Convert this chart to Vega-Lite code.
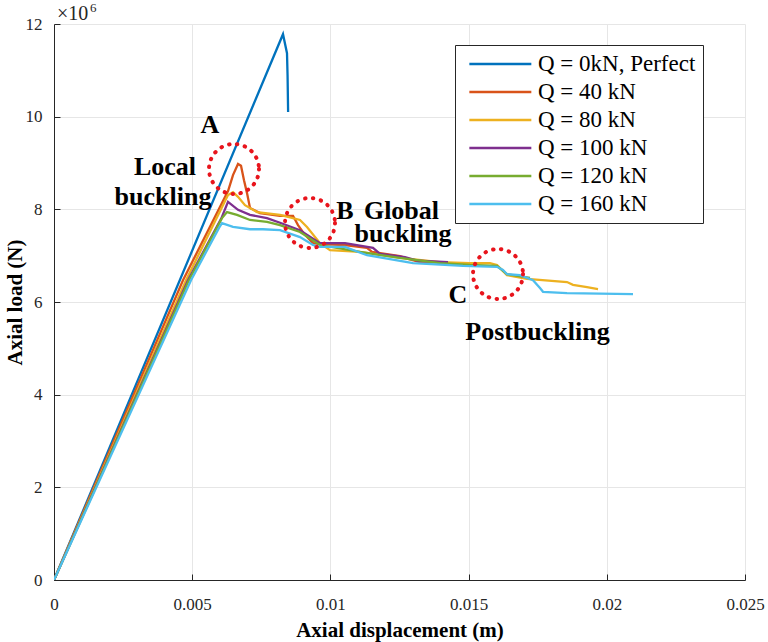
{
  "$schema": "https://vega.github.io/schema/vega-lite/v6.json",
  "autosize": "none",
  "width": 691,
  "height": 556,
  "padding": {"left": 54, "top": 24, "right": 23, "bottom": 62},
  "background": "white",
  "config": {
    "view": {"stroke": null},
    "axis": {
      "labelFont": "Liberation Serif", "labelFontSize": 17, "labelColor": "#262626",
      "titleFont": "Liberation Serif", "titleFontSize": 21, "titleFontWeight": "bold", "titleColor": "black",
      "domainColor": "#262626", "domainWidth": 1, "tickColor": "#262626", "tickSize": -6,
      "gridColor": "#e6e6e6", "gridWidth": 1
    },
    "legend": {
      "labelFont": "Liberation Serif", "labelFontSize": 23, "labelColor": "black"
    }
  },
  "datasets": {
    "curves": [
      {"d": 0, "load": 0, "Q": "Q = 0kN, Perfect"},
      {"d": 0.008285, "load": 11780000, "Q": "Q = 0kN, Perfect"},
      {"d": 0.00843, "load": 11370000, "Q": "Q = 0kN, Perfect"},
      {"d": 0.00845, "load": 10900000, "Q": "Q = 0kN, Perfect"},
      {"d": 0.00847, "load": 10100000, "Q": "Q = 0kN, Perfect"},

      {"d": 0, "load": 0, "Q": "Q = 40 kN"},
      {"d": 0.004667, "load": 6470000, "Q": "Q = 40 kN"},
      {"d": 0.0063, "load": 8400000, "Q": "Q = 40 kN"},
      {"d": 0.006476, "load": 8740000, "Q": "Q = 40 kN"},
      {"d": 0.006657, "load": 8980000, "Q": "Q = 40 kN"},
      {"d": 0.006766, "load": 8940000, "Q": "Q = 40 kN"},
      {"d": 0.006874, "load": 8630000, "Q": "Q = 40 kN"},
      {"d": 0.006983, "load": 8350000, "Q": "Q = 40 kN"},
      {"d": 0.007091, "load": 8030000, "Q": "Q = 40 kN"},
      {"d": 0.007453, "load": 7920000, "Q": "Q = 40 kN"},
      {"d": 0.008177, "load": 7860000, "Q": "Q = 40 kN"},
      {"d": 0.008647, "load": 7860000, "Q": "Q = 40 kN"},
      {"d": 0.008828, "load": 7660000, "Q": "Q = 40 kN"},
      {"d": 0.009081, "load": 7450000, "Q": "Q = 40 kN"},
      {"d": 0.00937, "load": 7270000, "Q": "Q = 40 kN"},
      {"d": 0.009624, "load": 7250000, "Q": "Q = 40 kN"},
      {"d": 0.010528, "load": 7230000, "Q": "Q = 40 kN"},
      {"d": 0.011324, "load": 7170000, "Q": "Q = 40 kN"},
      {"d": 0.011505, "load": 7080000, "Q": "Q = 40 kN"},
      {"d": 0.012518, "load": 6990000, "Q": "Q = 40 kN"},
      {"d": 0.012808, "load": 6930000, "Q": "Q = 40 kN"},
      {"d": 0.013242, "load": 6860000, "Q": "Q = 40 kN"},
      {"d": 0.014146, "load": 6860000, "Q": "Q = 40 kN"},

      {"d": 0, "load": 0, "Q": "Q = 80 kN"},
      {"d": 0.004776, "load": 6470000, "Q": "Q = 80 kN"},
      {"d": 0.006295, "load": 8310000, "Q": "Q = 80 kN"},
      {"d": 0.006476, "load": 8370000, "Q": "Q = 80 kN"},
      {"d": 0.006657, "load": 8270000, "Q": "Q = 80 kN"},
      {"d": 0.00691, "load": 8090000, "Q": "Q = 80 kN"},
      {"d": 0.007344, "load": 7940000, "Q": "Q = 80 kN"},
      {"d": 0.008177, "load": 7880000, "Q": "Q = 80 kN"},
      {"d": 0.0089, "load": 7770000, "Q": "Q = 80 kN"},
      {"d": 0.009153, "load": 7620000, "Q": "Q = 80 kN"},
      {"d": 0.009624, "load": 7270000, "Q": "Q = 80 kN"},
      {"d": 0.009986, "load": 7120000, "Q": "Q = 80 kN"},
      {"d": 0.011071, "load": 7080000, "Q": "Q = 80 kN"},
      {"d": 0.012518, "load": 6950000, "Q": "Q = 80 kN"},
      {"d": 0.013965, "load": 6860000, "Q": "Q = 80 kN"},
      {"d": 0.01505, "load": 6840000, "Q": "Q = 80 kN"},
      {"d": 0.015774, "load": 6840000, "Q": "Q = 80 kN"},
      {"d": 0.016027, "load": 6800000, "Q": "Q = 80 kN"},
      {"d": 0.016389, "load": 6580000, "Q": "Q = 80 kN"},
      {"d": 0.017113, "load": 6500000, "Q": "Q = 80 kN"},
      {"d": 0.01856, "load": 6430000, "Q": "Q = 80 kN"},
      {"d": 0.018777, "load": 6370000, "Q": "Q = 80 kN"},
      {"d": 0.019284, "load": 6320000, "Q": "Q = 80 kN"},
      {"d": 0.019682, "load": 6280000, "Q": "Q = 80 kN"},

      {"d": 0, "load": 0, "Q": "Q = 100 kN"},
      {"d": 0.004848, "load": 6470000, "Q": "Q = 100 kN"},
      {"d": 0.00605, "load": 7800000, "Q": "Q = 100 kN"},
      {"d": 0.006295, "load": 8160000, "Q": "Q = 100 kN"},
      {"d": 0.006657, "load": 7990000, "Q": "Q = 100 kN"},
      {"d": 0.007091, "load": 7880000, "Q": "Q = 100 kN"},
      {"d": 0.007706, "load": 7810000, "Q": "Q = 100 kN"},
      {"d": 0.008177, "load": 7710000, "Q": "Q = 100 kN"},
      {"d": 0.0089, "load": 7550000, "Q": "Q = 100 kN"},
      {"d": 0.009624, "load": 7270000, "Q": "Q = 100 kN"},
      {"d": 0.010528, "load": 7270000, "Q": "Q = 100 kN"},
      {"d": 0.011541, "load": 7170000, "Q": "Q = 100 kN"},
      {"d": 0.011794, "load": 7040000, "Q": "Q = 100 kN"},
      {"d": 0.012699, "load": 6970000, "Q": "Q = 100 kN"},
      {"d": 0.01317, "load": 6890000, "Q": "Q = 100 kN"},
      {"d": 0.014255, "load": 6860000, "Q": "Q = 100 kN"},

      {"d": 0, "load": 0, "Q": "Q = 120 kN"},
      {"d": 0.00488, "load": 6470000, "Q": "Q = 120 kN"},
      {"d": 0.006078, "load": 7810000, "Q": "Q = 120 kN"},
      {"d": 0.006259, "load": 7940000, "Q": "Q = 120 kN"},
      {"d": 0.006621, "load": 7880000, "Q": "Q = 120 kN"},
      {"d": 0.007091, "load": 7770000, "Q": "Q = 120 kN"},
      {"d": 0.007706, "load": 7730000, "Q": "Q = 120 kN"},
      {"d": 0.008177, "load": 7660000, "Q": "Q = 120 kN"},
      {"d": 0.0089, "load": 7510000, "Q": "Q = 120 kN"},
      {"d": 0.009624, "load": 7230000, "Q": "Q = 120 kN"},
      {"d": 0.011071, "load": 7080000, "Q": "Q = 120 kN"},
      {"d": 0.012518, "load": 6950000, "Q": "Q = 120 kN"},
      {"d": 0.013965, "load": 6840000, "Q": "Q = 120 kN"},
      {"d": 0.01505, "load": 6800000, "Q": "Q = 120 kN"},
      {"d": 0.016027, "load": 6780000, "Q": "Q = 120 kN"},
      {"d": 0.016389, "load": 6600000, "Q": "Q = 120 kN"},
      {"d": 0.017221, "load": 6520000, "Q": "Q = 120 kN"},

      {"d": 0, "load": 0, "Q": "Q = 160 kN"},
      {"d": 0.004957, "load": 6470000, "Q": "Q = 160 kN"},
      {"d": 0.00597, "load": 7600000, "Q": "Q = 160 kN"},
      {"d": 0.006078, "load": 7700000, "Q": "Q = 160 kN"},
      {"d": 0.006476, "load": 7620000, "Q": "Q = 160 kN"},
      {"d": 0.007091, "load": 7570000, "Q": "Q = 160 kN"},
      {"d": 0.007562, "load": 7570000, "Q": "Q = 160 kN"},
      {"d": 0.008177, "load": 7550000, "Q": "Q = 160 kN"},
      {"d": 0.0089, "load": 7400000, "Q": "Q = 160 kN"},
      {"d": 0.00937, "load": 7230000, "Q": "Q = 160 kN"},
      {"d": 0.009624, "load": 7190000, "Q": "Q = 160 kN"},
      {"d": 0.010528, "load": 7190000, "Q": "Q = 160 kN"},
      {"d": 0.011324, "load": 7010000, "Q": "Q = 160 kN"},
      {"d": 0.012988, "load": 6840000, "Q": "Q = 160 kN"},
      {"d": 0.014797, "load": 6780000, "Q": "Q = 160 kN"},
      {"d": 0.016027, "load": 6760000, "Q": "Q = 160 kN"},
      {"d": 0.016244, "load": 6690000, "Q": "Q = 160 kN"},
      {"d": 0.016389, "load": 6600000, "Q": "Q = 160 kN"},
      {"d": 0.016859, "load": 6580000, "Q": "Q = 160 kN"},
      {"d": 0.01733, "load": 6470000, "Q": "Q = 160 kN"},
      {"d": 0.017583, "load": 6300000, "Q": "Q = 160 kN"},
      {"d": 0.017692, "load": 6220000, "Q": "Q = 160 kN"},
      {"d": 0.01856, "load": 6190000, "Q": "Q = 160 kN"},
      {"d": 0.020948, "load": 6170000, "Q": "Q = 160 kN"}
    ],
    "notes": [
      {"d": 0.005644, "load": 9648000, "label": "A"},
      {"d": 0.004016, "load": 8741000, "label": "Local"},
      {"d": 0.003944, "load": 8094000, "label": "buckling"},
      {"d": 0.010528, "load": 7791000, "label": "B"},
      {"d": 0.012572, "load": 7791000, "label": "Global"},
      {"d": 0.012627, "load": 7295000, "label": "buckling"},
      {"d": 0.014617, "load": 5978000, "label": "C"},
      {"d": 0.017493, "load": 5180000, "label": "Postbuckling"}
    ],
    "rings": [
      {"d": 0.006512, "load": 8871000},
      {"d": 0.009262, "load": 7705000},
      {"d": 0.016064, "load": 6604000}
    ],
    "exponent": [
      {"d": 0, "load": 12086000, "base": "×10", "power": "6"}
    ]
  },
  "layer": [
    {
      "data": {"name": "curves"},
      "mark": {"type": "line", "strokeWidth": 2.3, "clip": true},
      "encoding": {
        "x": {
          "field": "d", "type": "quantitative",
          "scale": {"domain": [0, 0.025], "nice": false, "zero": false},
          "axis": {
            "title": "Axial displacement (m)",
            "values": [0, 0.005, 0.01, 0.015, 0.02, 0.025],
            "labelExpr": "'' + datum.value",
            "labelPadding": 22, "titlePadding": 7, "grid": true, "labelFlush": false
          }
        },
        "y": {
          "field": "load", "type": "quantitative",
          "scale": {"domain": [0, 12000000], "nice": false},
          "axis": {
            "title": "Axial load (N)",
            "values": [0, 2000000, 4000000, 6000000, 8000000, 10000000, 12000000],
            "labelExpr": "'' + (datum.value / 1000000)",
            "labelPadding": 18, "titlePadding": 0, "grid": true, "labelFlush": false
          }
        },
        "color": {
          "field": "Q", "type": "nominal",
          "scale": {
            "domain": ["Q = 0kN, Perfect", "Q = 40 kN", "Q = 80 kN", "Q = 100 kN", "Q = 120 kN", "Q = 160 kN"],
            "range": ["#0072BD", "#D95319", "#EDB120", "#7E2F8E", "#77AC30", "#4DBEEE"]
          },
          "legend": {
            "title": null, "orient": "none", "legendX": 401, "legendY": 21,
            "symbolType": "M-5,0H1", "symbolSize": 427, "symbolStrokeWidth": 2.5,
            "symbolOffset": 47, "labelOffset": 5,
            "strokeColor": "#262626", "fillColor": "white", "padding": 7,
            "rowPadding": 4
          }
        }
      }
    },
    {
      "data": {"name": "rings"},
      "mark": {"type": "point", "shape": "circle", "filled": false, "stroke": "#e8141c", "strokeWidth": 4, "strokeDash": [0.5, 7.5], "strokeCap": "round", "size": 2500, "opacity": 1},
      "encoding": {
        "x": {"field": "d", "type": "quantitative"},
        "y": {"field": "load", "type": "quantitative"}
      }
    },
    {
      "data": {"name": "notes"},
      "mark": {"type": "text", "font": "Liberation Serif", "fontSize": 26, "fontWeight": "bold", "color": "black", "align": "center", "baseline": "alphabetic"},
      "encoding": {
        "x": {"field": "d", "type": "quantitative"},
        "y": {"field": "load", "type": "quantitative"},
        "text": {"field": "label"}
      }
    },
    {
      "data": {"name": "exponent"},
      "mark": {"type": "text", "font": "Liberation Serif", "fontSize": 20, "color": "#262626", "align": "left", "baseline": "alphabetic", "dx": 3},
      "encoding": {
        "x": {"field": "d", "type": "quantitative"},
        "y": {"field": "load", "type": "quantitative"},
        "text": {"field": "base"}
      }
    },
    {
      "data": {"name": "exponent"},
      "mark": {"type": "text", "font": "Liberation Serif", "fontSize": 13, "color": "#262626", "align": "left", "baseline": "alphabetic", "dx": 36, "dy": -8},
      "encoding": {
        "x": {"field": "d", "type": "quantitative"},
        "y": {"field": "load", "type": "quantitative"},
        "text": {"field": "power"}
      }
    }
  ]
}
